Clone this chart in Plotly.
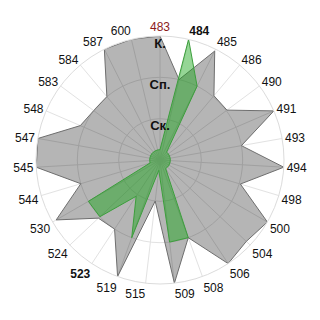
import plotly.graph_objects as go

categories = ["483", "484", "485", "486", "490", "491", "493", "494", "498", "500",
              "504", "506", "508", "509", "515", "519", "523", "524", "530", "544",
              "545", "547", "548", "583", "584", "587", "600"]
gray_values = [3.0, 2.0, 2.95, 2.03, 2.02, 3.0, 2.0, 3.0, 2.03, 3.0,
               2.87, 3.0, 2.0, 3.0, 1.0, 3.0, 2.0, 2.05, 2.9, 2.0,
               3.0, 3.0, 2.1, 2.0, 2.0, 3.0, 3.0]
green_values = [0.25, 3.0, 2.0, 0.25, 0.25, 0.25, 0.25, 0.25, 0.25, 0.25,
                0.25, 0.25, 2.0, 2.0, 0.25, 2.0, 1.05, 2.0, 2.0, 0.25,
                0.25, 0.25, 0.25, 0.25, 0.25, 0.25, 0.25]
radial_labels = ["Ск.", "Сп.", "К."]
radial_label_r = [0.8, 1.8, 2.78]

tick_text = []
for c in categories:
    if c == "483":
        tick_text.append("<span style='color:#8b1a1a'>483</span>")
    elif c in ("484", "523"):
        tick_text.append("<b>" + c + "</b>")
    else:
        tick_text.append(c)

theta_closed = categories + [categories[0]]

fig = go.Figure()
fig.add_trace(go.Scatterpolar(
    r=gray_values + [gray_values[0]], theta=theta_closed,
    mode="lines", fill="toself",
    fillcolor="rgba(0,0,0,0.29)",
    line=dict(color="#6e6e6e", width=1),
    hoverinfo="skip", showlegend=False))
fig.add_trace(go.Scatterpolar(
    r=green_values + [green_values[0]], theta=theta_closed,
    mode="lines", fill="toself",
    fillcolor="rgba(20,165,20,0.45)",
    line=dict(color="#3c9e3c", width=1),
    hoverinfo="skip", showlegend=False))
fig.add_trace(go.Scatterpolar(
    r=radial_label_r, theta=[categories[0]] * 3,
    mode="text", text=radial_labels,
    textfont=dict(family="Liberation Sans, Arial, sans-serif", size=13, color="#111"),
    texttemplate="<b>%{text}</b>",
    hoverinfo="skip", showlegend=False))

fig.update_layout(
    width=320, height=320,
    margin=dict(l=36, r=36, t=36, b=36),
    paper_bgcolor="white",
    font=dict(family="Liberation Sans, Arial, sans-serif", size=12, color="#111"),
    polar=dict(
        bgcolor="white",
        angularaxis=dict(
            type="category", categoryorder="array", categoryarray=categories,
            rotation=90, direction="clockwise",
            tickmode="array", tickvals=categories, ticktext=tick_text,
            ticks="", showline=True, linecolor="#dcdcdc", linewidth=1,
            gridcolor="#e2e2e2", gridwidth=1,
            tickfont=dict(size=12, color="#111")),
        radialaxis=dict(
            range=[0, 3], tickvals=[1, 2, 3], showticklabels=False,
            ticks="", showline=False, gridcolor="#e2e2e2", gridwidth=1),
    ),
)

fig.write_html("out.html")
